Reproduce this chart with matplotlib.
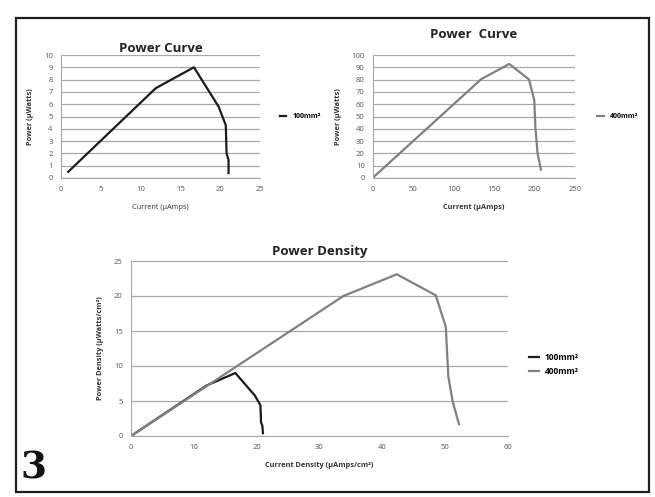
import matplotlib
matplotlib.use("Agg")
import matplotlib.pyplot as plt
from matplotlib.patches import Rectangle

plt.rcParams['font.family'] = ['Open Sans', 'DejaVu Sans']

# 100 mm² power curve
cur_100 = [0.9, 11.9, 16.7, 19.8, 20.7, 20.8, 21.05, 21.05]
pow_100 = [0.5, 7.3, 9.0, 5.8, 4.3, 2.0, 1.45, 0.4]

# 400 mm² power curve
cur_400 = [0.8, 134, 168.6, 193, 199.6, 201, 203.7, 207.9]
pow_400 = [0.8, 80.4, 92.7, 80.2, 63.3, 41, 19.8, 6.8]

# power density
cd_100 = [0, 12.0, 16.6, 19.7, 20.6, 20.7, 20.9, 21.0]
pd_100 = [0, 7.2, 9.0, 5.8, 4.4, 1.9, 1.5, 0.4]
cd_400 = [0, 33.8, 42.3, 48.5, 50.1, 50.5, 51.2, 52.2]
pd_400 = [0, 20.0, 23.1, 20.1, 15.6, 8.5, 4.9, 1.7]

labels = ['100mm²', '400mm²']
BLACK = '#1c1c1c'
GREY = '#808080'
GRID = '#a8a8a8'
TICK = '#555555'

W, H = 655, 497
fig = plt.figure(figsize=(W / 100, H / 100), dpi=100)
fig.patch.set_facecolor('white')

def ax_px(l, r, t, b):
    return fig.add_axes([l / W, 1 - b / H, (r - l) / W, (b - t) / H])

def style(ax, xlim, ylim, xticks, yticks):
    ax.set_xlim(*xlim)
    ax.set_ylim(*ylim)
    ax.set_xticks(xticks)
    ax.set_yticks(yticks)
    for s in ['top', 'right']:
        ax.spines[s].set_visible(False)
    ax.spines['left'].set_color(GRID)
    ax.spines['bottom'].set_color(GRID)
    ax.spines['left'].set_linewidth(0.8)
    ax.spines['bottom'].set_linewidth(0.8)
    ax.yaxis.grid(True, color=GRID, linewidth=0.9)
    ax.set_axisbelow(True)
    ax.tick_params(length=0, labelsize=5.5, labelcolor=TICK, pad=6)

# Top-left
ax1 = ax_px(61, 260, 55, 178)
ax1.plot(cur_100, pow_100, color=BLACK, lw=1.6, label=labels[0])
style(ax1, (0, 25), (0, 10), range(0, 26, 5), range(0, 11))
ax1.set_title('Power Curve', fontsize=9.5, fontweight='bold', color='#222222', pad=2)
ax1.set_xlabel('Current (µAmps)', fontsize=5.3, color='#333333', labelpad=8)
ax1.set_ylabel('Power (µWatts)', fontsize=5.3, color='#333333', fontweight='bold', labelpad=7)
ax1.legend(loc='center left', bbox_to_anchor=(1.07, 0.5), frameon=False,
           handlelength=0.9, handletextpad=0.9, prop={'size': 5, 'weight': 'bold'})

# Top-right
ax2 = ax_px(373, 575, 55, 178)
ax2.plot(cur_400, pow_400, color=GREY, lw=1.6, label=labels[1])
style(ax2, (0, 250), (0, 100), range(0, 251, 50), range(0, 101, 10))
ax2.set_title('Power  Curve', fontsize=9.5, fontweight='bold', color='#222222', pad=12)
ax2.set_xlabel('Current (µAmps)', fontsize=5.3, fontweight='bold', color='#333333', labelpad=8)
ax2.set_ylabel('Power (µWatts)', fontsize=5.3, color='#333333', fontweight='bold', labelpad=7)
ax2.legend(loc='center left', bbox_to_anchor=(1.08, 0.5), frameon=False,
           handlelength=0.9, handletextpad=0.9, prop={'size': 5, 'weight': 'bold'})

# Bottom
ax3 = ax_px(131, 508, 261, 436)
ax3.plot(cd_100, pd_100, color=BLACK, lw=1.6, label=labels[0])
ax3.plot(cd_400, pd_400, color=GREY, lw=1.6, label=labels[1])
style(ax3, (0, 60), (0, 25), range(0, 61, 10), range(0, 26, 5))
ax3.set_title('Power Density', fontsize=9.5, fontweight='bold', color='#222222', pad=4)
ax3.set_xlabel('Current Density (µAmps/cm²)', fontsize=5.3, fontweight='bold', color='#333333', labelpad=8)
ax3.set_ylabel('Power Density (µWatts/cm²)', fontsize=5.3, color='#333333', fontweight='bold', labelpad=7)
ax3.legend(loc='center left', bbox_to_anchor=(1.035, 0.41), frameon=False,
           handlelength=1.2, handletextpad=0.7, labelspacing=0.55, prop={'size': 6, 'weight': 'bold'})

# Outer frame
fig.add_artist(Rectangle((16 / W, 1 - 492 / H), (649 - 16) / W, (492 - 18) / H,
                         transform=fig.transFigure, fill=False, edgecolor='#1e1e1e', lw=1.6))

fig.text(20 / W, 1 - 468 / H, '3', fontsize=27, fontweight='bold', family='DejaVu Serif',
         va='center', ha='left', color='#111111')

fig.savefig('out.png', dpi=100)
